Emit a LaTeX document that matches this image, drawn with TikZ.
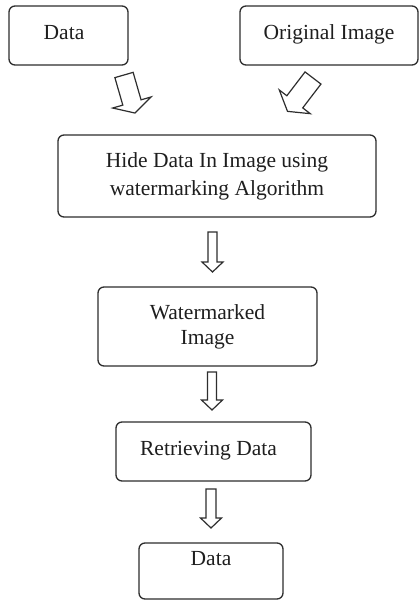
\documentclass[tikz,border=0pt]{standalone}
\usepackage{fontspec}
\setmainfont{Liberation Serif}
\definecolor{linegray}{HTML}{2E2E2E}
\definecolor{textgray}{HTML}{1E1E1E}
\newcommand{\blockarrow}[6]{%
  \begin{scope}[shift={(#1)},rotate=#2]
    \draw[blk] (0,{#4/2}) -- ({#3-#6},{#4/2}) -- ({#3-#6},{#5/2}) -- (#3,0)
      -- ({#3-#6},{-#5/2}) -- ({#3-#6},{-#4/2}) -- (0,{-#4/2}) -- cycle;
  \end{scope}}
\begin{document}
\begin{tikzpicture}[x=1pt,y=-1pt,
  box/.style={draw=linegray, line width=1.3pt, rounded corners=6pt,
    inner sep=0pt, outer sep=0pt, align=center, text=textgray,
    font=\fontsize{21.5}{28}\selectfont},
  oneline/.style={text height=14.5pt, text depth=7pt},
  blk/.style={draw=linegray, line width=1.2pt, line join=miter, fill=white}]
\useasboundingbox[fill=white] (0,0) rectangle (419,601);

\node[box, oneline, minimum width=119pt, minimum height=59pt] (data) at (68.5,35.5) {Data\kern9pt};
\node[box, oneline, minimum width=178pt, minimum height=59pt] (orig) at (329,35.5) {Original Image};
\node[box, minimum width=318pt, minimum height=82pt] (hide) at (217,176)
  {Hide Data In Image using\\watermarking Algorithm};
\node[box, minimum width=219pt, minimum height=79pt,
  font=\fontsize{21.5}{25}\selectfont] (wm) at (207.5,326.5) {Watermarked\\Image};
\node[box, oneline, minimum width=195pt, minimum height=59pt] (ret) at (213.5,451.5) {Retrieving Data\kern10pt};
\node[box, text height=14.5pt, text depth=26.5pt, minimum width=144pt, minimum height=56pt] (out) at (211,571) {Data};

\coordinate (a1) at (124,75);
\coordinate (a2) at (313,78);
\coordinate (a3) at (212.5,232);
\coordinate (a4) at (212,372);
\coordinate (a5) at (211,489);

\blockarrow{a1}{-73.9}{39.6}{19}{40}{11}
\blockarrow{a2}{-127.4}{42}{20}{39}{12}
\blockarrow{a3}{-90}{40}{9}{21}{10}
\blockarrow{a4}{-90}{38}{9}{21}{10}
\blockarrow{a5}{-90}{39}{10}{21}{10}
\end{tikzpicture}
\end{document}
